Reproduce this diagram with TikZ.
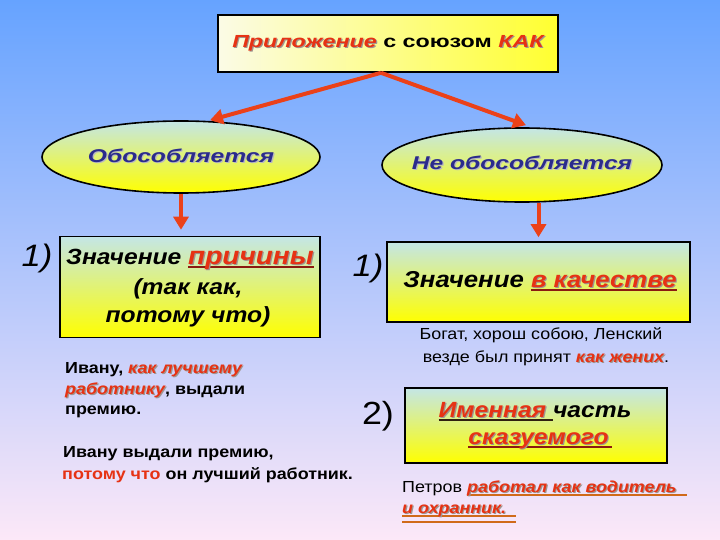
\documentclass[tikz,border=0pt]{standalone}
\usepackage{fontspec}
\setmainfont{Liberation Sans}
\newfontfamily\fa[FakeStretch=1.33]{Liberation Sans}
\newfontfamily\fb[FakeStretch=1.12]{Liberation Sans}
\usetikzlibrary{shapes.geometric,arrows.meta}
\definecolor{bgtop}{HTML}{66A3FF}
\definecolor{bgmid}{HTML}{B9CFF3}
\definecolor{bgbot}{HTML}{FCE8F8}
\definecolor{boxtop}{HTML}{C4E6E6}
\definecolor{boxbot}{HTML}{FFFF00}
\definecolor{titl}{HTML}{FBFBE6}
\definecolor{titr}{HTML}{FFFF30}
\definecolor{arrc}{HTML}{EB4119}
\definecolor{redt}{HTML}{E63214}
\definecolor{navy}{HTML}{2B2B8C}
\definecolor{shadc}{HTML}{A09590}
\definecolor{shadl}{HTML}{B8B8C0}
\definecolor{ulred}{HTML}{8B1A10}
\definecolor{ulblk}{HTML}{302010}
\definecolor{ulor}{HTML}{D06A1A}
\newcommand\fs[1]{\fontsize{#1}{#1}\selectfont}
\newcommand\hA{\fa\bfseries\itshape}
\newcommand\bB{\fb\bfseries\itshape}
\newcommand\shd[3][shadc]{\rlap{\kern1.2pt\raisebox{-1.2pt}{\color{#1}#3}}{\color{#2}#3}}
\newcommand\ulx[3]{\setbox0=\hbox{#3}\rlap{\color{#1}\rule[-3.4pt]{\wd0}{#2}}\box0}
\newcommand\uldbl[1]{\setbox0=\hbox{#1}\rlap{\color{ulor}\rule[-3.5pt]{\wd0}{2.2pt}}\rlap{\color{ulor}\rule[-9.5pt]{\wd0}{2.2pt}}\box0}
\begin{document}
\begin{tikzpicture}[x=1pt,y=-1pt,
  box/.style={draw=black,line width=1.6pt,top color=boxtop,bottom color=boxbot,inner sep=0pt},
  oval/.style={ellipse,draw=black,line width=1.6pt,top color=boxtop,bottom color=boxbot,inner sep=0pt},
  arr/.style={draw=arrc,line width=4pt,-{Triangle[length=13pt,width=15pt]}},
  txt/.style={inner sep=0pt,anchor=mid},
  num/.style={inner sep=0pt,anchor=center}]
\useasboundingbox (0,0) rectangle (720,540);
\shade[top color=bgtop,middle color=bgmid,bottom color=bgbot] (0,0) rectangle (720,540);
% boxes
\node[draw=black,line width=1.6pt,left color=titl,right color=titr,inner sep=0pt,
  minimum width=340pt,minimum height=57pt] (title) at (388,43.5) {};
\node[oval,minimum width=278pt,minimum height=72pt] (lell) at (181,157) {};
\node[oval,minimum width=280pt,minimum height=74pt] (rell) at (522,165) {};
\node[box,minimum width=260pt,minimum height=101pt] (lbox) at (190,287) {};
\node[box,minimum width=303pt,minimum height=80pt] (rbox) at (538.5,282) {};
\node[box,minimum width=262pt,minimum height=75pt] (pbox) at (536,425.5) {};
% arrows
\draw[arr] ([xshift=-7pt]title.south) -- ([xshift=29pt]lell.north);
\draw[arr] ([xshift=-7pt]title.south) -- ([xshift=4pt,yshift=2pt]rell.north);
\draw[arr,shorten >=6pt] (lell.south) -- (lell.south |- lbox.north);
\draw[arr,shorten >=4pt] (rbox.north |- rell.south) -- (rbox.north);
% title text
\node[txt,font=\fs{17.5}\fa\bfseries] (ttext) at (388,45) {{\itshape\shd{redt}{Приложение}} с союзом {\itshape\shd{redt}{КАК}}};
\node[txt,font=\fs{18.5}\hA] (ltext) at (181,160) {\shd[shadl]{navy}{Обособляется}};
\node[txt,font=\fs{18.5}\hA] (rtext) at (522,167) {\shd[shadl]{navy}{Не обособляется}};
% numbers
\node[num,font=\fs{31}\fb\itshape] (n1) at (37,258) {1)};
\node[num,font=\fs{31}\fb\itshape] (n2) at (368,268) {1)};
\node[num,font=\fs{32}\fb] (n3) at (378,416) {2)};
% left box
\node[txt,font=\fs{22}\bB] (l1) at (190,262) {Значение \ulx{ulred}{1.8pt}{\fs{25}\shd{redt}{причины}}};
\node[txt,font=\fs{22}\bB] (l2) at (188,292) {(так как,};
\node[txt,font=\fs{22}\bB] (l3) at (188,320) {потому что)};
% right box
\node[txt,font=\fs{23}\bB] (r1) at (540,285) {Значение \ulx{ulred}{1.8pt}{\shd{redt}{в качестве}}};
\node[txt,font=\fs{16}\fb] (r2) at (541,337) {Богат, хорош собою, Ленский};
\node[txt,font=\fs{16}\fb] (r3) at (546,360) {везде был принят {\bfseries\itshape\shd{redt}{как жених}}.};
% box 2
\node[txt,font=\fs{22}\bB] (p1) at (535,415) {\ulx{ulblk}{1.8pt}{\shd{redt}{Именная}\ }часть};
\node[txt,font=\fs{22}\bB] (p2) at (540,442) {\ulx{ulred}{1.8pt}{\shd{redt}{сказуемого}\kern3pt}};
% left examples
\node[txt,anchor=mid west,font=\fs{16}\fb\bfseries] (e1) at (65,371) {Ивану, {\itshape\shd{redt}{как лучшему}}};
\node[txt,anchor=mid west,font=\fs{16}\fb\bfseries] (e2) at (65,392) {{\itshape\shd{redt}{работнику}}, выдали};
\node[txt,anchor=mid west,font=\fs{16}\fb\bfseries] (e3) at (65,412) {премию.};
\node[txt,anchor=mid west,font=\fs{16}\fb\bfseries] (e4) at (63,455) {Ивану выдали премию,};
\node[txt,anchor=mid west,font=\fs{16}\fb\bfseries] (e5) at (62,477) {{\color{redt}потому что} он лучший работник.};
% right bottom example
\node[txt,anchor=mid west,font=\fs{16}\fb] (f1) at (402,490) {Петров \ulx{ulor}{2.5pt}{\bfseries\itshape\shd{redt}{работал как водитель}\ \ }};
\node[txt,anchor=mid west,font=\fs{16}\fb] (f2) at (402,511) {\uldbl{\bfseries\itshape\shd{redt}{и охранник.}\ \ }};
\end{tikzpicture}
\end{document}
